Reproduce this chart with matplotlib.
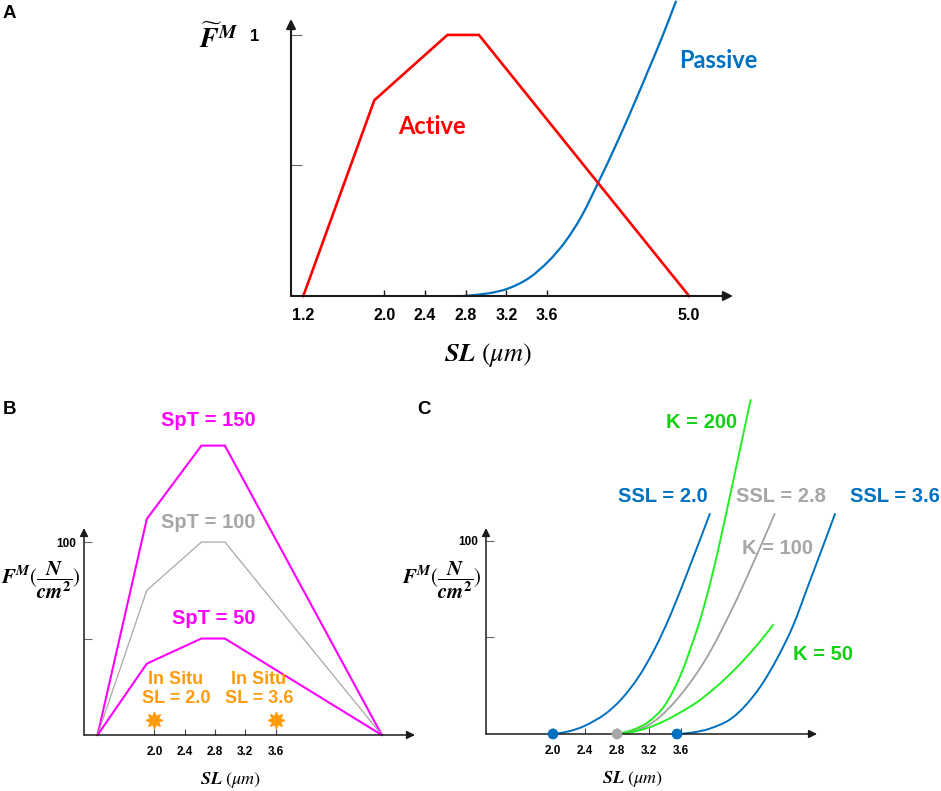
import numpy as np
import matplotlib
matplotlib.use("Agg")
import matplotlib.pyplot as plt
from matplotlib.path import Path
from matplotlib.patches import PathPatch

plt.rcParams['font.family'] = ['Liberation Sans', 'DejaVu Sans']
plt.rcParams['mathtext.fontset'] = 'stix'

# ---- panel A: normalised force-length ----
a_ticks = [1.2, 2.0, 2.4, 2.8, 3.2, 3.6, 5.0]
a_ticklabels = ['1.2', '2.0', '2.4', '2.8', '3.2', '3.6', '5.0']
active_sl = [1.2, 1.9, 2.62, 2.93, 5.0]
active_f = [0, 0.75, 1.0, 1.0, 0]
passive_sl = [2.78, 3.02, 3.22, 3.42, 3.61, 3.78, 3.94, 4.11, 4.27, 4.44, 4.6, 4.73, 4.87]
passive_f = [0, 0.01, 0.029, 0.068, 0.131, 0.208, 0.305, 0.438, 0.57, 0.719, 0.866, 0.987, 1.128]

# ---- panel B: active force for different specific tension ----
bc_ticks = [2.0, 2.4, 2.8, 3.2, 3.6]
bc_ticklabels = ['2.0', '2.4', '2.8', '3.2', '3.6']
b_sl = [1.25, 1.9, 2.62, 2.93, 5.0]
spt150 = [0, 112, 150, 150, 0]
spt100 = [0, 75, 100, 100, 0]
spt50 = [0, 37, 50, 50, 0]
insitu_sl = [2.0, 3.6]
insitu_f = [8, 8]

# ---- panel C: passive force for different slack length / stiffness ----
ssl20_sl = [2.0, 2.19, 2.4, 2.65, 2.86, 3.07, 3.275, 3.48, 3.73, 3.96]
ssl20_f = [0, 1.3, 4.3, 10.3, 18.3, 29.6, 44.4, 62.8, 89, 114]
k100_sl = [2.8, 3.0, 3.19, 3.35, 3.53, 3.7, 3.85, 4.0, 4.12, 4.3, 4.48, 4.63, 4.77]
k100_f = [0, 1.4, 4.6, 9.4, 17, 25.8, 34.8, 45.3, 54.9, 70, 86.5, 100.5, 114]
ssl36_sl = [3.55, 3.75, 3.96, 4.2, 4.4, 4.6, 4.8, 5.0, 5.2, 5.4, 5.525]
ssl36_f = [0, 0.8, 2.8, 7.2, 14.5, 25, 39, 56, 78, 100, 114]
k200_sl = [2.8, 3.0, 3.2, 3.4, 3.6, 3.8, 3.9, 4.0, 4.1, 4.2, 4.33, 4.47]
k200_f = [0, 2.2, 6.5, 15, 31, 54, 68, 84, 102, 121, 146, 173]
k50_sl = [2.8, 2.9, 3.0, 3.2, 3.4, 3.6, 3.8, 4.0, 4.2, 4.4, 4.6, 4.75]
k50_f = [0, 0.4, 1.1, 3.4, 6.9, 11.4, 16.5, 23, 30.5, 39, 48.5, 56.5]
ssl_dots = [2.0, 2.8, 3.55]

RED = '#FF0000'
BLUE = '#0070C0'
MAG = '#FF00FF'
GRAY = '#A6A6A6'
ORANGE = '#FF9A0A'
GREEN_LINE = '#22EE22'
GREEN_TXT = '#11D011'
AXC = '#1a1a1a'

W, H = 941, 791
fig = plt.figure(figsize=(W / 100, H / 100), dpi=100)


def px_axes(left, top, right, bottom):
    return fig.add_axes([left / W, 1 - bottom / H, (right - left) / W, (bottom - top) / H])


def ftext(x, y, s, **kw):
    kw.setdefault('ha', 'center')
    kw.setdefault('va', 'center')
    fig.text(x / W, 1 - y / H, s, **kw)


def arrow_axes(ax, lw, ms):
    for s in ax.spines.values():
        s.set_visible(False)
    props = dict(arrowstyle='-|>', lw=lw, color=AXC, mutation_scale=ms, shrinkA=0, shrinkB=0)
    ax.annotate('', xy=(1, 0), xytext=(0, 0), xycoords='axes fraction', arrowprops=props)
    ax.annotate('', xy=(0, 1), xytext=(0, 0), xycoords='axes fraction', arrowprops=props)
    ax.set_facecolor('none')


def smooth_curve(ax, xs, ys, color, lw):
    # curve through the read points, drawn as cubic bezier segments (catmull-rom tangents)
    p = np.column_stack([xs, ys]).astype(float)
    n = len(p)
    verts = [p[0]]
    codes = [Path.MOVETO]
    for i in range(n - 1):
        p0 = p[i - 1] if i > 0 else p[i]
        p3 = p[i + 2] if i + 2 < n else p[i + 1]
        c1 = p[i] + (p[i + 1] - p0) / 6
        c2 = p[i + 1] - (p3 - p[i]) / 6
        verts += [c1, c2, p[i + 1]]
        codes += [Path.CURVE4] * 3
    ax.add_patch(PathPatch(Path(verts, codes), fill=False, edgecolor=color, lw=lw,
                           clip_on=False, capstyle='round'))


# ================= A =================
axA = px_axes(291, 19, 733, 296)
axA.set_xlim(1.079, 5.433)
axA.set_ylim(0, 1.061)
arrow_axes(axA, 1.5, 14)
axA.plot(active_sl, active_f, color=RED, lw=1.9, clip_on=False, solid_joinstyle='miter')
smooth_curve(axA, passive_sl, passive_f, BLUE, 1.6)
axA.set_xticks(a_ticks, a_ticklabels)
axA.set_yticks([0.5, 1.0], ['', '1'])
axA.tick_params(axis='x', direction='in', length=4, width=1, color=AXC, pad=9,
                labelsize=11.5)
axA.tick_params(axis='y', direction='in', length=8, width=0.8, color='#666666', pad=23,
                labelsize=12)
for t in axA.get_xticklabels() + axA.get_yticklabels():
    t.set_fontweight('bold')
axA.xaxis.get_major_ticks()[0].tick1line.set_visible(False)
axA.xaxis.get_major_ticks()[-1].tick1line.set_visible(False)

ftext(9, 13, 'A', fontsize=13.5, fontweight='bold')
ftext(219, 39, r'$\widetilde{\boldsymbol{F}}^{\boldsymbol{M}}$', fontsize=20)
ftext(488, 355, r'$\boldsymbol{SL}\ (\mu m)$', fontsize=19)
ftext(432, 127, 'Active', color=RED, fontsize=17, fontweight='bold', family=['Lato', 'DejaVu Sans'])
ftext(718, 61, 'Passive', color=BLUE, fontsize=17, fontweight='bold', family=['Lato', 'DejaVu Sans'])

# ================= B =================
axB = px_axes(84, 528, 415, 735)
axB.set_xlim(1.071, 5.438)
axB.set_ylim(0, 107.3)
arrow_axes(axB, 1.1, 12)
axB.plot(b_sl, spt150, color=MAG, lw=1.5, clip_on=False, solid_joinstyle='miter')
axB.plot(b_sl, spt100, color='#A8A8A8', lw=0.9, clip_on=False, solid_joinstyle='miter')
axB.plot(b_sl, spt50, color=MAG, lw=1.5, clip_on=False, solid_joinstyle='miter')
axB.plot(insitu_sl, insitu_f, ls='none', marker=(8, 1, 0), ms=12, color=ORANGE, clip_on=False)

# ================= C =================
axC = px_axes(486, 528, 817, 734)
axC.set_xlim(1.1625, 5.3)
axC.set_ylim(0, 106.7)
arrow_axes(axC, 1.1, 12)
smooth_curve(axC, ssl20_sl, ssl20_f, BLUE, 1.4)
smooth_curve(axC, k200_sl, k200_f, GREEN_LINE, 1.4)
smooth_curve(axC, k100_sl, k100_f, '#A0A0A0', 1.3)
smooth_curve(axC, k50_sl, k50_f, GREEN_LINE, 1.4)
smooth_curve(axC, ssl36_sl, ssl36_f, BLUE, 1.4)
axC.scatter(ssl_dots, [0, 0, 0], s=45, c=[BLUE, '#A6A6A6', BLUE], zorder=5, clip_on=False)

for ax in (axB, axC):
    ax.set_xticks(bc_ticks, bc_ticklabels)
    ax.set_yticks([50, 100], ['', '100'])
    ax.tick_params(axis='x', direction='in', length=4, width=0.8, color='#444444', pad=8,
                   labelsize=8.5)
    ax.tick_params(axis='y', direction='in', length=6, width=0.8, color='#666666', pad=6,
                   labelsize=8.5)
    for t in ax.get_xticklabels() + ax.get_yticklabels():
        t.set_fontweight('bold')

ylab = (r'$\boldsymbol{F}^{\boldsymbol{M}}(\dfrac{\boldsymbol{N}}'
        r'{\boldsymbol{cm}^{\boldsymbol{2}}})$')
ftext(41, 580, ylab, fontsize=15)
ftext(442, 580, ylab, fontsize=15)
ftext(231, 780, r'$\boldsymbol{SL}\ (\mu m)$', fontsize=13)
ftext(633, 779, r'$\boldsymbol{SL}\ (\mu m)$', fontsize=13)

ftext(9.5, 410, 'B', fontsize=13.5, fontweight='bold')
ftext(424.5, 410, 'C', fontsize=13.5, fontweight='bold')

big = dict(fontsize=14.5, fontweight='bold')
ftext(208, 421, 'SpT = 150', color=MAG, **big)
ftext(208, 523, 'SpT = 100', color=GRAY, **big)
ftext(214, 619, 'SpT = 50', color=MAG, **big)
ftext(176, 689, 'In Situ\nSL = 2.0', color=ORANGE, fontsize=13, fontweight='bold', linespacing=1.2)
ftext(259, 689, 'In Situ\nSL = 3.6', color=ORANGE, fontsize=13, fontweight='bold', linespacing=1.2)

ftext(702, 423, 'K = 200', color=GREEN_TXT, **big)
ftext(663, 497, 'SSL = 2.0', color=BLUE, **big)
ftext(781, 497, 'SSL = 2.8', color=GRAY, **big)
ftext(895, 497, 'SSL = 3.6', color=BLUE, **big)
ftext(778, 548, 'K = 100', color=GRAY, **big)
ftext(823, 655, 'K = 50', color=GREEN_TXT, **big)

fig.savefig('out.png', dpi=100)
